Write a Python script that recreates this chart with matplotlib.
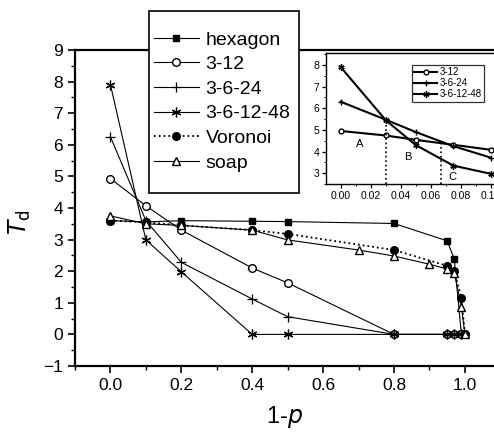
import matplotlib
matplotlib.use("Agg")
import matplotlib.pyplot as plt
from matplotlib.ticker import MultipleLocator
from matplotlib.patches import Rectangle

plt.rcParams['font.family'] = ['Liberation Sans', 'DejaVu Sans']

# ---- main data ----
x_hex = [0, 0.1, 0.2, 0.4, 0.5, 0.8, 0.95, 0.97, 0.99]
y_hex = [3.6, 3.56, 3.6, 3.58, 3.57, 3.51, 2.96, 2.38, 0]

x_tiles = [0, 0.1, 0.2, 0.4, 0.5, 0.8, 0.95, 0.97, 0.99]
y_312 = [4.93, 4.07, 3.3, 2.1, 1.63, 0, 0, 0, 0]
y_3624 = [6.25, 3.6, 2.28, 1.12, 0.56, 0, 0, 0, 0]
y_361248 = [7.9, 2.99, 1.98, 0, 0, 0, 0, 0, 0]

x_vor = [0, 0.1, 0.2, 0.4, 0.5, 0.8, 0.95, 0.97, 0.99, 1.0]
y_vor = [3.6, 3.55, 3.45, 3.3, 3.18, 2.67, 2.17, 2.0, 1.16, 0]

x_soap = [0, 0.1, 0.2, 0.4, 0.5, 0.7, 0.8, 0.9, 0.95, 0.97, 0.99, 1.0]
y_soap = [3.75, 3.5, 3.45, 3.3, 2.99, 2.67, 2.48, 2.22, 2.07, 1.94, 0.88, 0]

labels = ["hexagon", "3-12", "3-6-24", "3-6-12-48", "Voronoi", "soap"]

# ---- inset data ----
xi = [0, 0.03, 0.05, 0.075, 0.1]
yi_312 = [4.95, 4.74, 4.54, 4.31, 4.08]
yi_3624 = [6.3, 5.47, 4.9, 4.25, 3.72]
yi_361248 = [7.9, 5.45, 4.3, 3.35, 2.97]
inset_labels = ["3-12", "3-6-24", "3-6-12-48"]
region_labels = ["A", "B", "C"]
region_x = [0.0125, 0.0445, 0.0745]
region_y = [4.33, 3.76, 2.82]
cross_x = [0.03, 0.067]
cross_y = [5.45, 4.35]

fig = plt.figure(figsize=(4.94, 4.34), dpi=100)
W, H = 494, 434
ax = fig.add_axes([75/W, 68/H, 419/W, 316/H])

lw = 0.8
ax.plot(x_hex, y_hex, '-', color='black', lw=lw, marker='s', ms=5, mfc='black', mec='black', label=labels[0])
ax.plot(x_tiles, y_312, '-', color='black', lw=lw, marker='o', ms=5.5, mfc='white', mec='black', label=labels[1])
ax.plot(x_tiles, y_3624, '-', color='black', lw=lw, marker='+', ms=7, mew=0.9, label=labels[2])
ax.plot(x_tiles, y_361248, '-', color='black', lw=lw, marker=(6, 2, 0), ms=7, mew=0.9, label=labels[3])
ax.plot(x_vor, y_vor, ':', color='black', lw=1.3, marker='o', ms=5.5, mfc='black', mec='black', label=labels[4])
ax.plot(x_soap, y_soap, '-', color='black', lw=lw, marker='^', ms=6, mfc='white', mec='black', label=labels[5])

ax.set_xlim(-0.1, 1.082)
ax.set_ylim(-1, 9)
ax.xaxis.set_minor_locator(MultipleLocator(0.1))
ax.yaxis.set_major_locator(MultipleLocator(1))
ax.yaxis.set_minor_locator(MultipleLocator(0.5))
ax.set_xticks([0, 0.2, 0.4, 0.6, 0.8, 1.0])
ax.set_xticklabels(["0.0", "0.2", "0.4", "0.6", "0.8", "1.0"])
ax.tick_params(which='major', direction='out', length=5, width=1.2, labelsize=12.5)
ax.tick_params(which='minor', direction='out', length=3, width=1.0)
for s in ['left', 'bottom', 'top']:
    ax.spines[s].set_linewidth(1.6)
ax.spines['right'].set_visible(False)
ax.set_xlabel("1-$\\it{p}$", fontsize=17, labelpad=8)
ax.set_ylabel("$\\it{T}_{\\rm d}$", fontsize=17)
ax.yaxis.set_label_coords(-0.10, 0.456)

# legend frame drawn as a figure-level rectangle
frame = Rectangle((149/W, 1 - 193/H), 150/W, 182/H, transform=fig.transFigure,
                  facecolor='white', edgecolor='black', lw=1.2, zorder=9)
fig.patches.append(frame)
handles, labs = ax.get_legend_handles_labels()
leg = fig.legend(handles, labs, loc='upper left', bbox_to_anchor=(154/W, 1 - 31/H),
                 frameon=False, fontsize=14, handlelength=2.3,
                 handletextpad=0.35, labelspacing=0.36, borderpad=0, borderaxespad=0)
leg.set_zorder(10)

# ---- inset ----
ins = fig.add_axes([326/W, (H-184)/H, 168/W, 131/H])
ins.set_zorder(5)
ilw = 1.5
ins.plot(xi, yi_312, '-', color='black', lw=ilw, marker='o', ms=3.5, mfc='white', mec='black', label=inset_labels[0])
ins.plot(xi, yi_3624, '-', color='black', lw=ilw, marker='+', ms=5, mew=1.0, label=inset_labels[1])
ins.plot(xi, yi_361248, '-', color='black', lw=ilw, marker=(6, 2, 0), ms=4.5, mew=1.0, label=inset_labels[2])
for cx, cy in zip(cross_x, cross_y):
    ins.plot([cx, cx], [2.5, cy], ':', color='black', lw=1.2)
for t, rx, ry in zip(region_labels, region_x, region_y):
    ins.text(rx, ry, t, fontsize=8, ha='center', va='center')
ins.set_xlim(-0.0098, 0.1022)
ins.set_ylim(2.5, 8.55)
ins.set_xticks([0, 0.02, 0.04, 0.06, 0.08, 0.10])
ins.set_xticklabels(["0.00", "0.02", "0.04", "0.06", "0.08", "0.10"])
ins.set_yticks([3, 4, 5, 6, 7, 8])
ins.xaxis.set_minor_locator(MultipleLocator(0.01))
ins.yaxis.set_minor_locator(MultipleLocator(0.5))
ins.tick_params(which='major', direction='out', length=3, width=0.9, labelsize=7.5, pad=2)
ins.tick_params(which='minor', direction='out', length=1.5, width=0.7)
for s in ['left', 'bottom', 'top']:
    ins.spines[s].set_linewidth(1.0)
ins.spines['right'].set_visible(False)
ileg = ins.legend(loc='upper left', bbox_to_anchor=(0.51, 0.91), frameon=True, fancybox=False,
                  fontsize=7, handlelength=2.4, handletextpad=0.2, labelspacing=0.1,
                  borderpad=0.25, borderaxespad=0)
ileg.get_frame().set_edgecolor('black')
ileg.get_frame().set_linewidth(0.9)

fig.savefig("out.png", dpi=100)
